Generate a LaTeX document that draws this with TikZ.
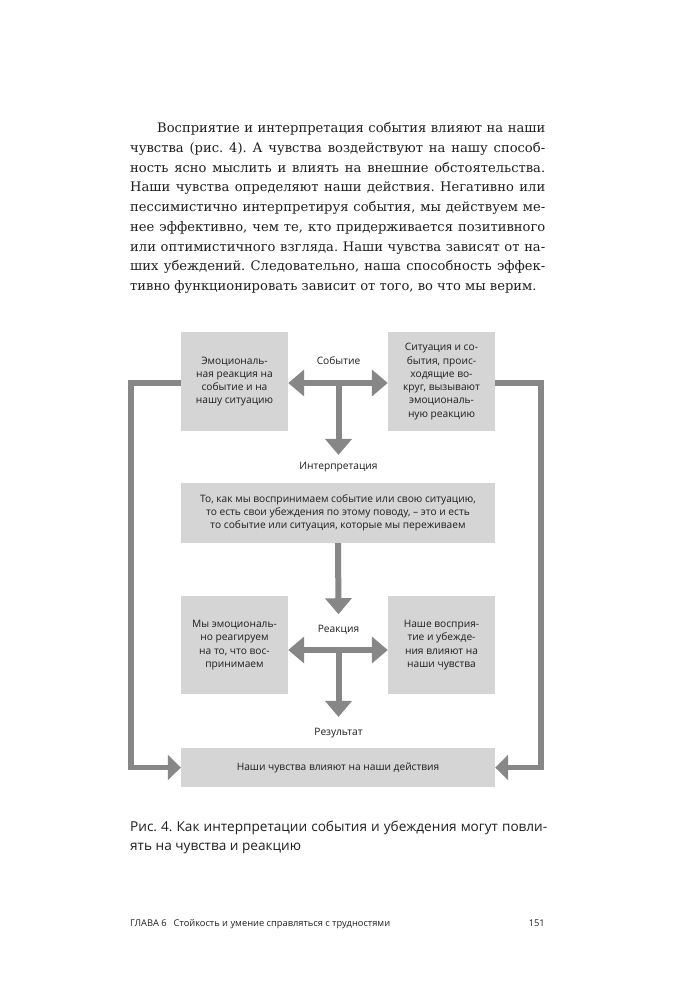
\documentclass[tikz,border=0pt]{standalone}
\usepackage{fontspec}
\setmainfont{DejaVu Serif}
\setsansfont{Open Sans}
\usetikzlibrary{arrows.meta}
\definecolor{boxgray}{HTML}{D5D5D5}
\definecolor{arrgray}{HTML}{878787}
\definecolor{ink}{HTML}{1E1E1E}
\frenchspacing

\begin{document}
\begin{tikzpicture}[x=1pt,y=-1pt]
		\tikzstyle{box}=[fill=boxgray,inner sep=0pt,align=center,text=ink,font=\sffamily\fontsize{10.2}{13.3}\selectfont];
		\tikzstyle{lbl}=[inner sep=0pt,text=ink,font=\sffamily\fontsize{10.2}{13.3}\selectfont];
		\tikzstyle{arr}=[draw=arrgray,line width=6pt,-{Triangle[length=16pt,width=26pt]}];
		\tikzstyle{twoway}=[arr,{Triangle[length=16pt,width=26pt]}-{Triangle[length=16pt,width=26pt]}];
		\tikzstyle{back}=[draw=arrgray,line width=5.5pt,-{Triangle[length=13pt,width=25pt]}];
		\useasboundingbox (0,0) rectangle (674,1000);
		% text above the figure
		\node[anchor=north west,inner sep=0pt,text width=415pt,align=justify,text=ink,font=\fontsize{13.1}{19.7}\selectfont] (body) at (130,122.5)
			{\tolerance=10000\hspace*{27pt}Восприятие и интерпретация события влияют на наши\linebreak
			чувства (рис. 4). А чувства воздействуют на нашу способ-\linebreak
			ность ясно мыслить и влиять на внешние обстоятельства.\linebreak
			Наши чувства определяют наши действия. Негативно или\linebreak
			пессимистично интерпретируя события, мы действуем ме-\linebreak
			нее эффективно, чем те, кто придерживается позитивного\linebreak
			или оптимистичного взгляда. Наши чувства зависят от на-\linebreak
			ших убеждений. Следовательно, наша способность эффек-\linebreak
			тивно функционировать зависит от того, во что мы верим.};
		% boxes
		\node[box,minimum width=107pt,minimum height=99pt] (emo) at (234.5,381.5) {Эмоциональ-\\ная реакция на\\событие и на\\нашу ситуацию};
		\node[box,minimum width=107pt,minimum height=99pt] (sit) at (441.5,381.5) {Ситуация и со-\\бытия, проис-\\ходящие во-\\круг, вызывают\\эмоциональ-\\ную реакцию};
		\node[box,minimum width=314pt,minimum height=60pt] (belief) at (338,513) {То, как мы воспринимаем событие или свою ситуацию,\\то есть свои убеждения по этому поводу, – это и есть\\то событие или ситуация, которые мы переживаем};
		\node[box,minimum width=107pt,minimum height=98pt] (react) at (234.5,645) {Мы эмоциональ-\\но реагируем\\на то, что вос-\\принимаем};
		\node[box,minimum width=107pt,minimum height=98pt] (perc) at (441.5,645) {Наше восприя-\\тие и убежде-\\ния влияют на\\наши чувства};
		\node[box,minimum width=314pt,minimum height=39pt] (act) at (338,767.5) {Наши чувства влияют на наши действия};
		% labels
		\node[lbl] (event) at (338.5,361) {Событие};
		\node[lbl] (interp) at (338.5,467) {Интерпретация};
		\node[lbl] (reaction) at (338.5,630) {Реакция};
		\node[lbl] (result) at (338.5,733) {Результат};
		\coordinate (jt) at (338.5,383);
		\coordinate (jb) at (338.5,650);
		% arrows
		\draw[twoway] (emo.east |- jt) -- (sit.west |- jt);
		\draw[arr] (jt) -- ([yshift=7pt]interp.north);
		\draw[arr] (belief.south) -- ([yshift=11pt]reaction.north);
		\draw[twoway] (react.east |- jb) -- (perc.west |- jb);
		\draw[arr] (jb) -- ([yshift=11pt]result.north);
		\draw[back] (emo.west |- jt) -- ++(-50,0) |- (act.west);
		\draw[back] (sit.east |- jt) -- ++(46,0) |- (act.east);
		% caption and page foot
		\node[anchor=north west,inner sep=0pt,text width=417pt,align=justify,text=ink,font=\sffamily\fontsize{13.6}{19}\selectfont] (caption) at (130,821)
			{\tolerance=10000 Рис. 4. Как интерпретации события и убеждения могут повли-\linebreak ять на чувства и реакцию};
		\node[anchor=base west,inner sep=0pt,text=ink,font=\sffamily\fontsize{9.3}{11}\selectfont] (chapter) at (130,926) {ГЛАВА 6\hspace{7pt}Стойкость и умение справляться с трудностями};
		\node[anchor=base east,inner sep=0pt,text=ink,font=\sffamily\fontsize{9.3}{11}\selectfont] (folio) at (545,926) {151};
\end{tikzpicture}
\end{document}
